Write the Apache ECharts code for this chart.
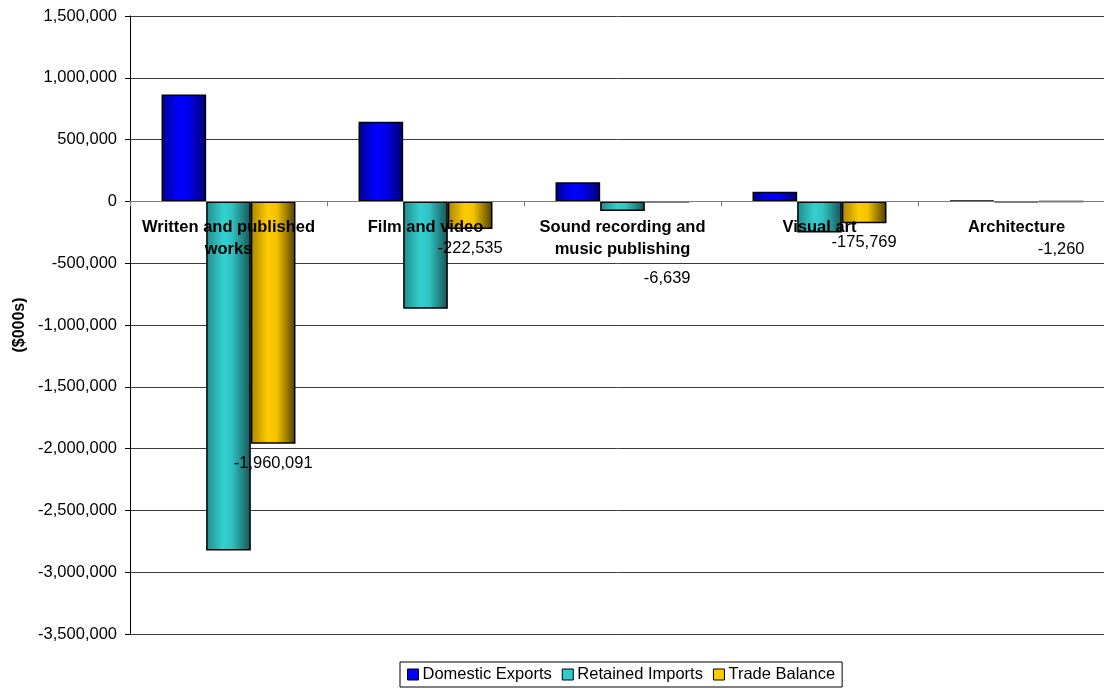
<!DOCTYPE html>
<html>
<head>
<meta charset="utf-8">
<title>Cultural goods trade by category</title>
<script src="https://cdn.jsdelivr.net/npm/echarts@6/dist/echarts.min.js"></script>
<style>
  html, body { margin: 0; padding: 0; background: #ffffff; }
  #chart { width: 1104px; height: 689px; }
</style>
</head>
<body>
<div id="chart"></div>
<script>
// Categories and values ($000s)
const categories = [
  'Written and published\nworks',
  'Film and video',
  'Sound recording and\nmusic publishing',
  'Visual art',
  'Architecture'
];
const domesticExports = [865000, 645000, 155000, 79000, 6000];
const retainedImports = [-2825000, -868000, -78000, -252000, -7000];
const tradeBalance = [-1960091, -222535, -6639, -175769, -1260];

const seriesNames = ['Domestic Exports', 'Retained Imports', 'Trade Balance'];
const yMin = -3500000;
const yMax = 1500000;
const yStep = 500000;

const fmt = v => Number(v).toLocaleString('en-US');
const FONT = '"Liberation Sans", Arial, Helvetica, sans-serif';

// Plot box
const GRID = { left: 130, right: -11, top: 16, bottom: 55 };
const plotHeight = 689 - GRID.top - GRID.bottom;
// Category axis sits on the zero line: shift it up from the plot bottom
const zeroShift = -plotHeight * (0 - yMin) / (yMax - yMin);

// Side-lit shading across each bar
function shade(edgeL, mid, mid2, edgeR) {
  return new echarts.graphic.LinearGradient(0, 0, 1, 0, [
    { offset: 0, color: edgeL },
    { offset: 0.38, color: mid },
    { offset: 0.58, color: mid2 },
    { offset: 1, color: edgeR }
  ]);
}
const solid = ['#0000ff', '#33cccc', '#ffcc00'];
const fills = [
  shade('#00008c', '#0000ff', '#0000f2', '#000070'),
  shade('#228a8a', '#35d0d0', '#30c2c2', '#185454'),
  shade('#a88400', '#ffcc00', '#f4c200', '#4e3d00')
];

// Extra drop for the balance labels that would sit on a category name
const balanceLabelDrop = [0, 0, 56, 0, 28];

const chart = echarts.init(document.getElementById('chart'), null, { renderer: 'canvas' });

const barBase = {
  type: 'bar',
  barGap: '0%',
  barCategoryGap: '32%',
  itemStyle: { borderColor: '#000000', borderWidth: 1.5 }
};

chart.setOption({
  animation: false,
  backgroundColor: '#ffffff',
  textStyle: { fontFamily: FONT },
  grid: Object.assign({ containLabel: false, outerBoundsMode: 'none' }, GRID),
  legend: {
    left: 400,
    top: 662,
    orient: 'horizontal',
    itemWidth: 11,
    itemHeight: 11,
    itemGap: 10,
    padding: [4, 7],
    borderColor: '#000000',
    borderWidth: 1,
    textStyle: { fontFamily: FONT, fontSize: 16.5, color: '#000000', padding: [0, 0, 0, -1] },
    itemStyle: { borderColor: '#000000', borderWidth: 1 },
    data: seriesNames.map((n, i) => ({ name: n, icon: 'rect', itemStyle: { color: solid[i] } }))
  },
  xAxis: {
    type: 'category',
    data: categories,
    position: 'bottom',
    offset: zeroShift,
    z: 10,
    axisLine: { onZero: false, lineStyle: { color: '#7a7a7a', width: 1 } },
    axisTick: { show: true, length: 5, lineStyle: { color: '#7a7a7a' } },
    axisLabel: {
      interval: 0,
      margin: 15,
      fontFamily: FONT,
      fontSize: 16.5,
      fontWeight: 'bold',
      lineHeight: 22,
      color: '#000000',
      hideOverlap: false
    },
    splitLine: { show: false }
  },
  yAxis: {
    type: 'value',
    min: yMin,
    max: yMax,
    interval: yStep,
    name: '($000s)',
    nameLocation: 'middle',
    nameRotate: 90,
    nameGap: 100,
    nameTextStyle: { fontFamily: FONT, fontSize: 16, fontWeight: 'bold', color: '#000000' },
    axisLine: { show: true, lineStyle: { color: '#000000', width: 1 } },
    axisTick: { show: true, length: 5, lineStyle: { color: '#000000' } },
    axisLabel: { margin: 13, fontFamily: FONT, fontSize: 16.5, color: '#000000', formatter: fmt },
    splitLine: { show: true, lineStyle: { color: '#3c3c3c', width: 1 } }
  },
  series: [
    Object.assign({}, barBase, {
      name: seriesNames[0],
      data: domesticExports,
      itemStyle: Object.assign({}, barBase.itemStyle, { color: fills[0] })
    }),
    Object.assign({}, barBase, {
      name: seriesNames[1],
      data: retainedImports,
      itemStyle: Object.assign({}, barBase.itemStyle, { color: fills[1] })
    }),
    Object.assign({}, barBase, {
      name: seriesNames[2],
      itemStyle: Object.assign({}, barBase.itemStyle, { color: fills[2] }),
      label: {
        show: true,
        position: 'bottom',
        distance: 11,
        fontFamily: FONT,
        fontSize: 16.5,
        color: '#000000',
        formatter: p => fmt(p.value)
      },
      data: tradeBalance.map((v, i) => ({
        value: v,
        label: { offset: [0, balanceLabelDrop[i]] }
      }))
    })
  ]
});
</script>
</body>
</html>
